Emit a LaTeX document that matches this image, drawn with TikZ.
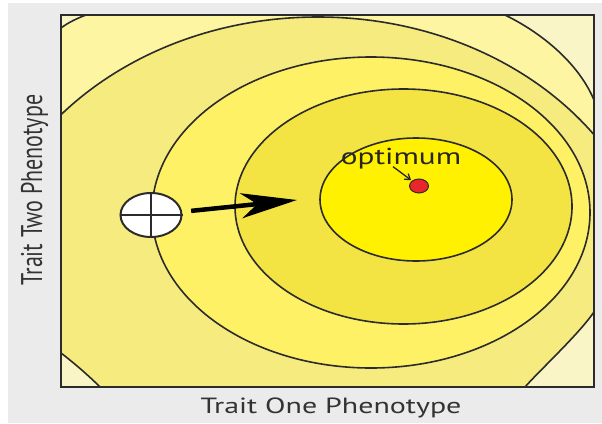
\documentclass[tikz,border=0pt]{standalone}
\usepackage{fontspec}
\setmainfont{PT Sans}
\usetikzlibrary{shapes.geometric,arrows.meta}
\definecolor{panelGray}{HTML}{EBEBEB}
\definecolor{fitEdge}{HTML}{FAF5C7}
\definecolor{fitLow}{HTML}{FDF5A1}
\definecolor{fitMid}{HTML}{F6EB7F}
\definecolor{fitHigh}{HTML}{FEF166}
\definecolor{fitTop}{HTML}{F3E444}
\definecolor{fitPeak}{HTML}{FFF100}
\definecolor{lineDark}{HTML}{2B2B2B}
\definecolor{dotRed}{HTML}{E8262B}

\begin{document}
\begin{tikzpicture}[x=1pt, y=-1pt,
    contour/.style={draw=lineDark, line width=1.6pt},
    corner/.style={fill=fitEdge},
    axislabel/.style={font=\fontsize{22}{25}\selectfont, text=black!80, xscale=1.36, inner sep=0pt},
    pheno/.style={ellipse, draw=lineDark, line width=2pt, fill=white, minimum width=61pt, minimum height=44pt, inner sep=0pt},
    bigarrow/.style={-{Stealth[length=56pt, width=25pt, inset=16pt]}, line width=4.5pt, black},
    pointer/.style={-{Straight Barb[length=5pt, width=7pt]}, line width=1.3pt, black!85}
]
\useasboundingbox (0,0) rectangle (602,423);
\fill[panelGray] (8,3) rectangle (602,423);

\begin{scope}
\clip (61,15) rectangle (594,387);
\fill[fitLow] (61,15) rectangle (594,387);
\draw[contour, fill=fitMid] (318,300) ellipse [x radius=340, y radius=283];
\draw[contour, fill=fitHigh] (371,212.5) ellipse [x radius=219, y radius=155.5];
\draw[contour, fill=fitTop] (403.5,206.5) ellipse [x radius=168.5, y radius=117.5];
\draw[contour, fill=fitPeak] (416,199.5) ellipse [x radius=96, y radius=61.5];
\fill[corner] (61,28) .. controls (69,22) and (78,18) .. (86,15) -- (61,15) -- cycle;
\fill[corner] (505,15) .. controls (540,32) and (578,62) .. (594,100) -- (594,15) -- cycle;
\fill[corner] (525,387) .. controls (540,370) and (578,335) .. (594,312) -- (594,387) -- cycle;
\fill[corner] (61,353) .. controls (74,363) and (88,375) .. (100,387) -- (61,387) -- cycle;
\draw[contour] (61,28) .. controls (69,22) and (78,18) .. (86,15);
\draw[contour] (505,15) .. controls (540,32) and (578,62) .. (594,100);
\draw[contour] (525,387) .. controls (540,370) and (578,335) .. (594,312);
\draw[contour] (61,353) .. controls (74,363) and (88,375) .. (100,387);
\end{scope}
\draw[lineDark, line width=2.5pt] (61,15) rectangle (594,387);

\node[pheno] (pheno) at (151,215) {};
\draw[lineDark, line width=2pt] (pheno.north) -- (pheno.south) (pheno.west) -- (pheno.east);
\coordinate (aim) at (297,200);
\draw[bigarrow, shorten <=9pt] (pheno) -- (aim);

\node[ellipse, fill=dotRed, draw=lineDark, line width=1pt, minimum width=19pt, minimum height=14pt, inner sep=0pt] (optdot) at (419,186) {};
\node[font=\fontsize{23}{25}\selectfont, text=black!85, xscale=1.36, inner sep=0pt] (optimum) at (401,159) {optimum};
\draw[pointer, shorten >=1pt] (optimum.south) ++(-8,-3) -- (optdot);

\node[axislabel, anchor=base] (xtrait) at (331,413) {Trait One Phenotype};
\node[axislabel, rotate=90, anchor=base] (ytrait) at (42,190) {Trait Two Phenotype};
\end{tikzpicture}
\end{document}
